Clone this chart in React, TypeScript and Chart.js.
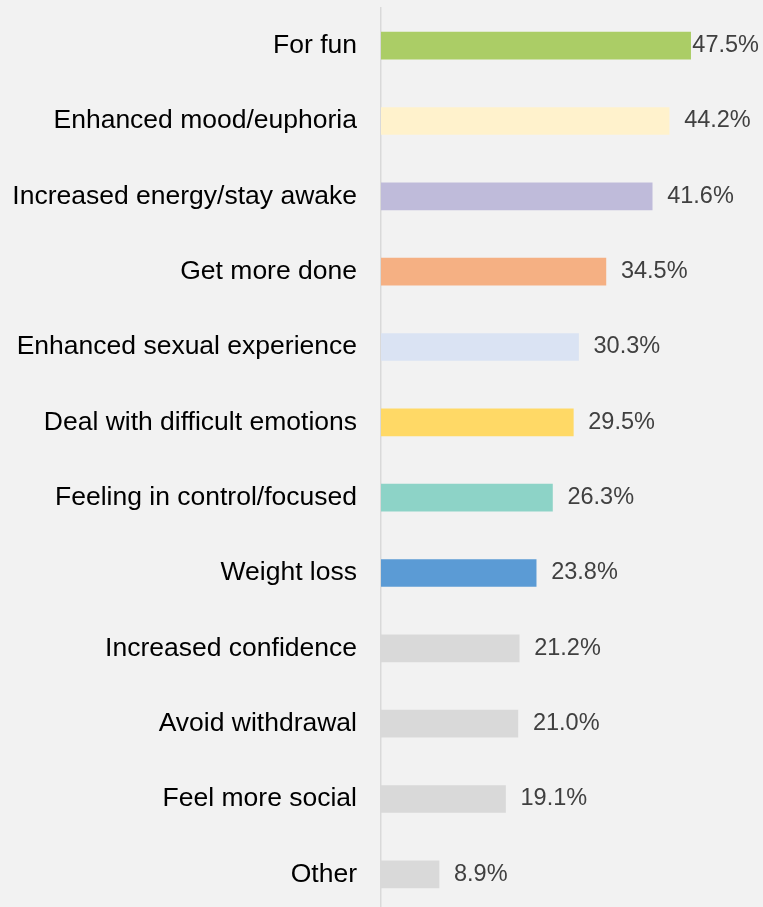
import React, { useEffect, useRef } from "react";
import { Chart, registerables } from "chart.js";

Chart.register(...registerables);

const categories = [
  "For fun",
  "Enhanced mood/euphoria",
  "Increased energy/stay awake",
  "Get more done",
  "Enhanced sexual experience",
  "Deal with difficult emotions",
  "Feeling in control/focused",
  "Weight loss",
  "Increased confidence",
  "Avoid withdrawal",
  "Feel more social",
  "Other",
];

const values = [47.5, 44.2, 41.6, 34.5, 30.3, 29.5, 26.3, 23.8, 21.2, 21.0, 19.1, 8.9];

const barColors = [
  "#ABCD66",
  "#FFF2CC",
  "#BFBBDA",
  "#F5B083",
  "#DAE3F3",
  "#FFD966",
  "#8DD3C7",
  "#5B9BD5",
  "#D9D9D9",
  "#D9D9D9",
  "#D9D9D9",
  "#D9D9D9",
];

const FONT = "'Liberation Sans', Arial, sans-serif";

const valueLabels = {
  id: "valueLabels",
  afterDatasetsDraw(chart: any) {
    const ctx = chart.ctx;
    const meta = chart.getDatasetMeta(0);
    ctx.save();
    ctx.font = `23.5px ${FONT}`;
    ctx.fillStyle = "#404040";
    ctx.textAlign = "left";
    ctx.textBaseline = "middle";
    meta.data.forEach((bar: any, i: number) => {
      const txt = values[i].toFixed(1) + "%";
      const w = ctx.measureText(txt).width;
      let x = bar.x + 15;
      if (x + w > chart.width - 4) x = chart.width - 4 - w;
      ctx.fillText(txt, x, bar.y);
    });
    ctx.restore();
  },
};

export default function App() {
  const ref = useRef<HTMLCanvasElement>(null);
  useEffect(() => {
    if (!ref.current) return;
    const chart = new Chart(ref.current, {
      type: "bar",
      data: {
        labels: categories,
        datasets: [
          {
            data: values,
            backgroundColor: barColors,
            borderWidth: 0,
            barThickness: 27,
          },
        ],
      },
      options: {
        indexAxis: "y",
        responsive: false,
        animation: false,
        devicePixelRatio: 1,
        layout: { padding: { top: 8, right: 0, bottom: 0, left: 0 } },
        plugins: {
          legend: { display: false },
          tooltip: { enabled: false },
        },
        scales: {
          x: {
            display: false,
            min: 0,
            max: 58.6,
          },
          y: {
            afterFit: (s: any) => {
              s.width = 381;
              s.paddingTop = 0;
              s.paddingBottom = 0;
            },
            grid: { display: false, drawTicks: false, tickLength: 0 },
            border: { display: true, color: "#D9D9D9", width: 1.5 },
            ticks: {
              color: "#000000",
              padding: 24,
              font: { size: 26.5, family: FONT },
            },
          },
        },
      },
      plugins: [valueLabels],
    });
    return () => chart.destroy();
  }, []);

  return (
    <div
      style={{
        position: "fixed",
        left: 0,
        top: 0,
        width: 763,
        height: 907,
        overflow: "hidden",
        background: "#F2F2F2",
      }}
    >
      <canvas ref={ref} width={763} height={912} style={{ display: "block" }} />
    </div>
  );
}
